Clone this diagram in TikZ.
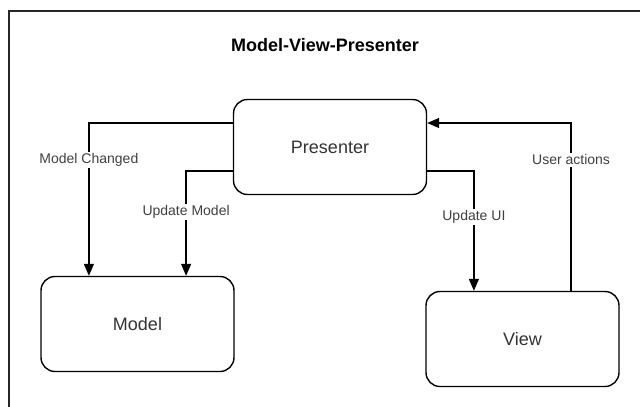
\documentclass[tikz,border=0pt]{standalone}
\usepackage{fontspec}
\setmainfont{Liberation Sans}
\usetikzlibrary{arrows.meta, positioning, calc}

\begin{document}
\begin{tikzpicture}[x=1pt, y=-1pt]
        \tikzset{
            box/.style={draw, line width=1.4pt, rounded corners=14pt, minimum width=193pt, minimum height=95pt, font=\fontsize{18}{20}\selectfont, text=black!80},
            flow/.style={line width=1.4pt, -{Triangle[length=12pt, width=10pt]}},
            lbl/.style={fill=white, inner sep=1.5pt, font=\fontsize{14}{16}\selectfont, text=black!75},
            frame/.style={line width=1.8pt, black!85}
        }

        \useasboundingbox (0,0) rectangle (640,407);
        \draw[frame] (641,11) -| (9,408);

        % Title
        \node[font=\bfseries\fontsize{18}{20}\selectfont] (title) at (325,45) {Model-View-Presenter};

        % Boxes
        \node[box] (pres) at (330,147) {Presenter};
        \node[box] (model) at (137.5,324) {Model};
        \node[box] (view) at (522.5,339) {View};

        % Entry points
        \coordinate (mc) at ($(model.north west)!0.25!(model.north east)$);
        \coordinate (um) at ($(model.north west)!0.75!(model.north east)$);
        \coordinate (ui) at ($(view.north west)!0.25!(view.north east)$);
        \coordinate (ua) at ($(view.north west)!0.75!(view.north east)$);

        % Connections
        \draw[flow] ($(pres.west)+(0,-24)$) -| (mc) node[lbl, pos=0.62] {Model Changed};
        \draw[flow] ($(pres.west)+(0,24)$) -| (um) node[lbl, pos=0.695] {Update Model};
        \draw[flow] ($(pres.east)+(0,24)$) -| (ui) node[lbl, pos=0.69] {Update UI};
        \draw[flow] (ua) |- ($(pres.east)+(0,-24)$) node[lbl, pos=0.39] {User actions};
    \end{tikzpicture}
\end{document}
